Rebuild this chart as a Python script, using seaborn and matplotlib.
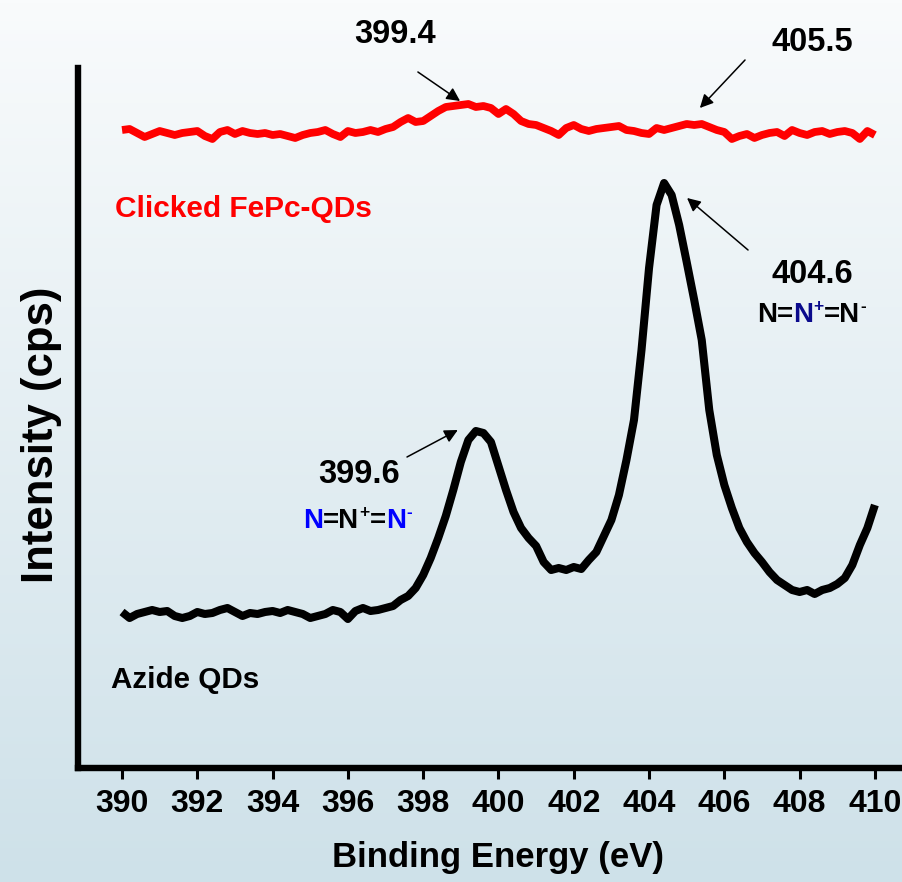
import numpy as np
import pandas as pd
import matplotlib
matplotlib.use("Agg")
import matplotlib.pyplot as plt
import seaborn as sns

# ---------------- data ----------------
energy = np.round(np.arange(390.0, 410.0001, 0.2), 1)   # binding energy grid (eV)

azide_qds = [
    156, 150, 154, 156, 158, 156, 157, 152, 150, 152,
    156, 154, 155, 158, 160, 156, 152, 155, 154, 156,
    157, 155, 158, 156, 154, 150, 152, 154, 158, 156,
    149, 157, 160, 157, 158, 160,
    162, 168, 172, 180, 193, 210, 230, 252, 278, 306,
    328, 337, 335, 326, 302, 278, 256, 240, 230, 222,
    206, 198, 200, 198, 201, 199, 208, 216, 232, 248,
    273, 308, 348, 418, 500, 563, 585, 573, 543, 506,
    468, 428, 358, 313, 283, 260, 240, 226, 215, 206,
    196, 188, 183, 178, 176, 178, 174, 178, 180, 184,
    190, 203, 223, 240, 263,
]

clicked_fepc = [
    638, 639, 635, 631, 634, 637, 635, 633, 635, 636,
    637, 632, 629, 636, 638, 634, 637, 635, 634, 635,
    633, 634, 632, 630, 633, 635, 636, 638, 634, 631,
    637, 635, 636, 638, 636, 639, 641, 646, 650, 646,
    647, 652, 657, 661, 662, 663, 664, 661, 662, 660,
    654, 659, 654, 647, 644, 643, 640, 637, 633, 640,
    643, 639, 637, 639, 640, 641, 642, 638, 637, 635,
    634, 640, 638, 640, 642, 644, 643, 644, 641, 638,
    636, 629, 632, 634, 630, 633, 635, 636, 632, 638,
    635, 633, 636, 637, 634, 636, 637, 635, 629, 637,
    633,
]

series_names = ["Clicked FePc-QDs", "Azide QDs"]
series_colors = ["#ff0000", "#000000"]
x_ticks = [390, 392, 394, 396, 398, 400, 402, 404, 406, 408, 410]

df = pd.DataFrame({
    "Binding Energy (eV)": np.concatenate([energy, energy]),
    "Intensity": clicked_fepc + azide_qds,
    "Sample": [series_names[0]] * len(energy) + [series_names[1]] * len(energy),
})

# ---------------- style ----------------
sns.set_style("ticks")
plt.rcParams["font.family"] = ["Liberation Sans", "DejaVu Sans"]
plt.rcParams["font.weight"] = "bold"
plt.rcParams["text.color"] = "black"
plt.rcParams["axes.labelcolor"] = "black"
plt.rcParams["xtick.color"] = "black"
plt.rcParams["xtick.labelcolor"] = "black"

W, H = 902, 882
fig = plt.figure(figsize=(W / 100, H / 100), dpi=100)

# background gradient
bg = fig.add_axes([0, 0, 1, 1], zorder=0)
top = np.array([249, 251, 252]) / 255
bot = np.array([206, 225, 233]) / 255
t = np.linspace(0, 1, 256)[:, None]
grad = (top[None, :] * (1 - t) + bot[None, :] * t)[:, None, :]
bg.imshow(grad, aspect="auto", extent=[0, 1, 0, 1], origin="upper")
bg.axis("off")

ax = fig.add_axes([78 / W, 1 - 768 / H, 1 - 78 / W, (768 - 68) / H], zorder=1)
ax.patch.set_alpha(0)

sns.lineplot(data=df, x="Binding Energy (eV)", y="Intensity", hue="Sample",
             hue_order=series_names, palette=dict(zip(series_names, series_colors)),
             legend=False, ax=ax, estimator=None, sort=False)
for line, lw in zip(ax.lines, [5.6, 5.8]):
    line.set_linewidth(lw)
    line.set_solid_joinstyle("round")
    line.set_solid_capstyle("butt")

ax.set_xlim(388.83, 410.72)
ax.set_ylim(0, 700)
ax.set_xticks(x_ticks)
ax.set_yticks([])
for s in ["top", "right"]:
    ax.spines[s].set_visible(False)
for s in ["left", "bottom"]:
    ax.spines[s].set_linewidth(4.6)
    ax.spines[s].set_color("black")
ax.tick_params(axis="x", direction="out", length=8, width=2.2, pad=7,
               labelsize=23, color="black", labelcolor="black")
for lab in ax.get_xticklabels():
    lab.set_fontweight("bold")

ax.set_xlabel("Binding Energy (eV)", fontsize=25, fontweight="bold", color="black")
ax.xaxis.set_label_coords(0.51, -0.104)
ax.set_ylabel("Intensity (cps)", fontsize=31.5, fontweight="bold", color="black")
ax.yaxis.set_label_coords(-0.019, 0.476)


def P(px, py):
    return (px / W, 1 - py / H)


def ftext(px, py, s, **kw):
    kw.setdefault("ha", "center")
    kw.setdefault("va", "baseline")
    kw.setdefault("fontweight", "bold")
    kw.setdefault("color", "black")
    return fig.text(*P(px, py), s, **kw)


NUM = 23.5
ftext(395, 43, "399.4", fontsize=NUM)
ftext(812, 51, "405.5", fontsize=NUM)
ftext(812, 283, "404.6", fontsize=NUM)
ftext(359, 483, "399.6", fontsize=NUM)
ftext(115, 217, "Clicked FePc-QDs", fontsize=21.5, ha="left", color="#ff0000")
ftext(111, 688, "Azide QDs", fontsize=21.3, ha="left", color="black")


def chem(px, py, parts, size=20, sup_size=12.5, rise=10):
    """parts: list of (text, color, is_super)"""
    prev = ftext(px, py, parts[0][0], fontsize=size, ha="left", color=parts[0][1])
    prev_sup = False
    for txt, col, sup in parts[1:]:
        if sup:
            a = ax.annotate(txt, xy=(1, 0), xycoords=prev, xytext=(0.2, rise),
                            textcoords="offset points", ha="left", va="bottom",
                            fontsize=sup_size, fontweight="bold", color=col,
                            annotation_clip=False)
            prev_sup = True
        else:
            off = (0.2, -rise) if prev_sup else (0, 0)
            a = ax.annotate(txt, xy=(1, 0), xycoords=prev, xytext=off,
                            textcoords="offset points", ha="left", va="bottom",
                            fontsize=size, fontweight="bold", color=col,
                            annotation_clip=False)
            prev_sup = False
        prev = a


BLUE = "#0000ff"
NAVY = "#0a0a8c"
chem(303, 528, [("N", BLUE, False), ("=N", "black", False), ("+", "black", True),
                ("=", "black", False), ("N", BLUE, False), ("-", BLUE, True)])
chem(757, 322, [("N=", "black", False), ("N", NAVY, False), ("+", NAVY, True),
                ("=N", "black", False), ("-", "black", True)])

arrow_kw = dict(arrowstyle="-|>", color="black", lw=1.1, mutation_scale=20,
                shrinkA=0, shrinkB=0)
arrows = [((397.86, 696), (398.98, 667)),
          ((406.55, 708), (405.35, 660)),
          ((406.63, 518), (405.01, 570)),
          ((397.57, 311), (398.92, 338))]
for tail, head in arrows:
    ax.annotate("", xy=head, xytext=tail, xycoords="data",
                arrowprops=arrow_kw, annotation_clip=False)

fig.savefig("out.png", dpi=100)
